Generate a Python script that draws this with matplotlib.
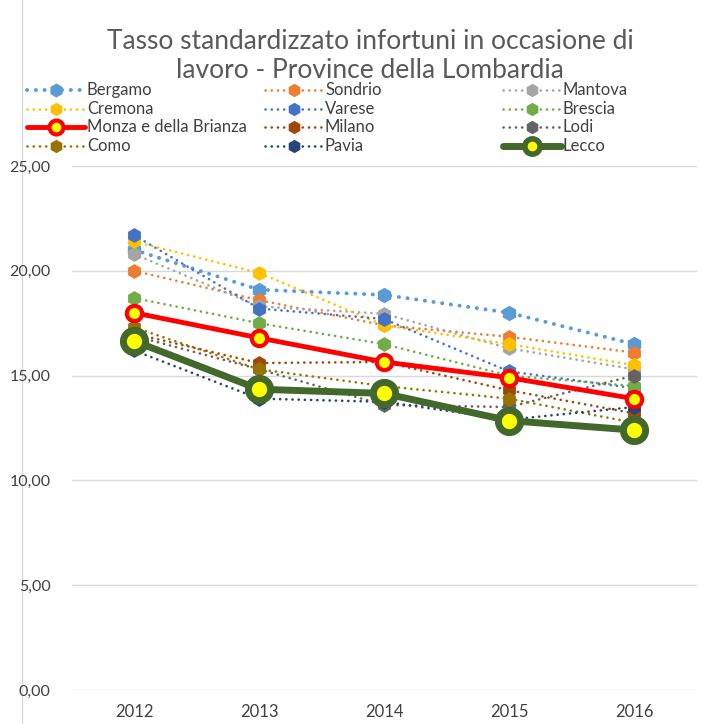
import matplotlib
matplotlib.use("Agg")
import matplotlib.pyplot as plt
from matplotlib.lines import Line2D

plt.rcParams['font.family'] = ['Lato', 'DejaVu Sans']

years = [2012, 2013, 2014, 2015, 2016]
year_labels = ["2012", "2013", "2014", "2015", "2016"]

bergamo = [21.0, 19.1, 18.85, 18.0, 16.5]
sondrio = [20.0, 18.6, 17.4, 16.85, 16.1]
mantova = [20.8, 18.3, 17.95, 16.3, 15.3]
cremona = [21.4, 19.9, 17.4, 16.5, 15.5]
varese = [21.7, 18.2, 17.7, 15.2, 14.4]
brescia = [18.7, 17.5, 16.5, 15.0, 14.5]
monza = [18.0, 16.8, 15.65, 14.9, 13.9]
milano = [17.0, 15.6, 15.65, 14.3, 13.2]
lodi = [16.9, 15.3, 13.6, 13.5, 15.0]
como = [17.3, 15.3, 14.5, 13.9, 12.75]
pavia = [16.2, 13.9, 13.75, 12.9, 13.5]
lecco = [16.65, 14.35, 14.15, 12.85, 12.4]

yticks = [0, 5, 10, 15, 20, 25]
ytick_labels = ["0,00", "5,00", "10,00", "15,00", "20,00", "25,00"]

W, H = 716, 724
fig = plt.figure(figsize=(W/100, H/100), dpi=100)
ax = fig.add_axes([71.5/W, 1-690/H, 625/W, 524/H])

xs = list(range(len(years)))

series = [
    ("Bergamo", bergamo, "#5B9BD5"),
    ("Sondrio", sondrio, "#ED7D31"),
    ("Mantova", mantova, "#A5A5A5"),
    ("Cremona", cremona, "#FFC000"),
    ("Varese", varese, "#4472C4"),
    ("Brescia", brescia, "#70AD47"),
    ("Monza e della Brianza", monza, "#FF0000"),
    ("Milano", milano, "#9E480E"),
    ("Lodi", lodi, "#636363"),
    ("Como", como, "#997300"),
    ("Pavia", pavia, "#264478"),
    ("Lecco", lecco, "#43682B"),
]

def style(name, col, legend=False):
    if name == "Monza e della Brianza":
        return dict(color=col, lw=3.5, marker='o', ms=10 if legend else 11,
                    mfc='#FFFF00', mec=col, mew=3, solid_capstyle='round')
    if name == "Lecco":
        return dict(color=col, lw=5, marker='o', ms=11 if legend else 16,
                    mfc='#FFFF00', mec=col, mew=4 if legend else 5, solid_capstyle='round')
    if name == "Bergamo":
        return dict(color=col, lw=2.8, ls=(0, (0.05, 2.2)), dash_capstyle='round',
                    marker='h', ms=9 if legend else 10, mec=col, mfc=col)
    return dict(color=col, lw=1.9, ls=(0, (0.05, 2.3)), dash_capstyle='round',
                marker='h', ms=8.5 if legend else 9.5, mec=col, mfc=col)

for i, (name, vals, col) in enumerate(series):
    z = 5 if name == "Lecco" else (4 if name.startswith("Monza") else 3)
    ax.plot(xs, vals, zorder=z, **style(name, col))

ax.set_xlim(-0.5, len(years) - 0.5)
ax.set_ylim(0, 25)
ax.set_xticks(xs)
ax.set_xticklabels(year_labels, fontsize=12, color='#404040')
ax.set_yticks(yticks)
ax.set_yticklabels(ytick_labels, fontsize=11.5, color='#404040')
ax.tick_params(axis='y', length=0, pad=15)
ax.tick_params(axis='x', length=0, pad=10)
ax.grid(axis='y', color='#D9D9D9', lw=1)
ax.set_axisbelow(True)
for s in ax.spines.values():
    s.set_visible(False)

fig.text(370/W, 1-56/H, "Tasso standardizzato infortuni in occasione di\nlavoro - Province della Lombardia",
         ha='center', va='center', fontsize=19, color='#595959', linespacing=1.2)

# manual legend, row-major like the original
col_x = [27, 265, 503]
row_y = [90, 108.7, 127.4, 146]
for i, (name, vals, col) in enumerate(series):
    r, c = divmod(i, 3)
    x0 = col_x[c]
    y = 1 - row_y[r]/H
    st = style(name, col, legend=True)
    mk = {k: st.pop(k) for k in ['marker', 'ms', 'mfc', 'mec', 'mew'] if k in st}
    fig.add_artist(Line2D([x0/W, (x0+58)/W], [y, y], transform=fig.transFigure, **st))
    fig.add_artist(Line2D([(x0+29)/W], [y], transform=fig.transFigure, ls='none',
                          marker=mk['marker'], ms=mk['ms'], mfc=mk['mfc'], mec=mk['mec'],
                          mew=mk.get('mew', 1)))
    fig.text((x0+60)/W, y, name, ha='left', va='center', fontsize=12, color='#404040')

fig.add_artist(Line2D([22/W, 22/W], [0, 1], transform=fig.transFigure,
                      color='#D9D9D9', lw=1, zorder=0))

fig.savefig("out.png", dpi=100)
